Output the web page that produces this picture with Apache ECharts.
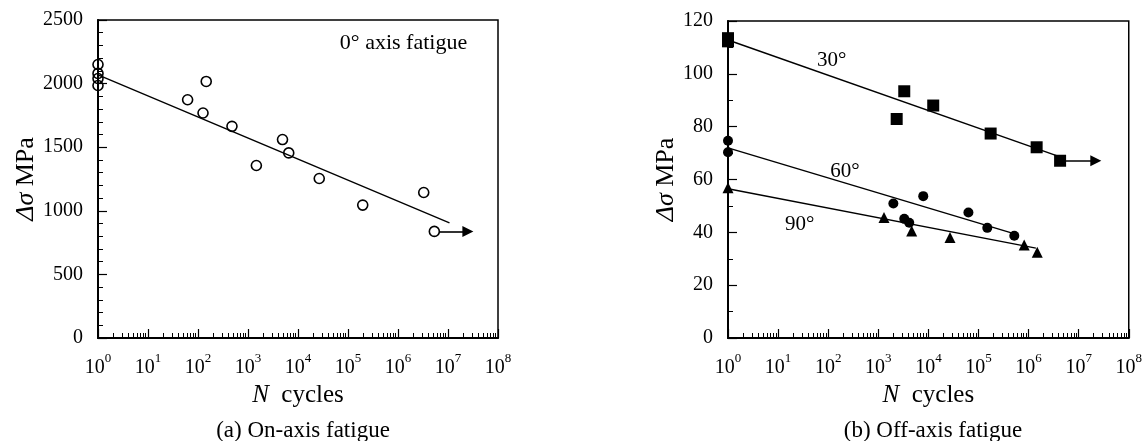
<!DOCTYPE html>
<html>
<head>
<meta charset="utf-8">
<title>Fatigue S-N curves</title>
<script src="https://cdn.jsdelivr.net/npm/echarts@6/dist/echarts.min.js"></script>
<style>
  body { margin: 0; background: #fff; }
  #chart { width: 1145px; height: 441px; }
</style>
</head>
<body>
<div id="chart"></div>
<script>
// (a) on-axis fatigue data
const onN = [1, 1, 1, 1, 62, 146, 126, 478, 1470, 4900, 6530, 26600, 197000, 3.27e6, 5.33e6];
const onS = [2150, 2080, 2040, 1985, 1873, 2017, 1769, 1664, 1356, 1560, 1455, 1254, 1045, 1144, 838];
const onFitN = [1, 1.07e7];
const onFitS = [2069, 905];
const onRunoutN = [6.6e6, 2.5e7];
const onRunoutS = 838;

// (b) off-axis fatigue data
const s30N = [1, 1, 2330, 3300, 12500, 175000, 1.45e6, 4.26e6];
const s30S = [113.5, 112.3, 82.9, 93.4, 88.0, 77.4, 72.2, 67.1];
const s60N = [1, 1, 2000, 3300, 4150, 7900, 63000, 150000, 519000];
const s60S = [74.7, 70.3, 50.9, 45.1, 43.6, 53.7, 47.5, 41.7, 38.7];
const s90N = [1, 1300, 4650, 27000, 818000, 1.49e6];
const s90S = [56.9, 45.6, 40.5, 38.0, 35.2, 32.5];
const fit30N = [1, 4.4e6], fit30S = [112.8, 68.5];
const fit60N = [1, 5.5e5], fit60S = [72.0, 39.3];
const fit90N = [1, 1.4e6], fit90S = [56.5, 34.0];
const offRunoutN = [4.26e6, 2.2e7];
const offRunoutS = 67.1;

const offNotes = ['30°', '60°', '90°'];
const offNoteN = [117, 215, 27];
const offNoteS = [104.9, 62.9, 43];
const onNote = '0° axis fatigue';
const onNoteN = 1.29e6, onNoteS = 2320;

// ticks
const decades = [1, 10, 100, 1e3, 1e4, 1e5, 1e6, 1e7, 1e8];
const minorN = [];
decades.slice(0, -1).forEach(d => { for (let k = 2; k <= 9; k++) minorN.push(k * d); });

const FONT = 'Liberation Serif';
const pairs = (xs, ys) => xs.map((x, i) => [x, Array.isArray(ys) ? ys[i] : ys]);

function mainX(gi) {
  return {
    type: 'log', logBase: 10, gridIndex: gi, min: 1, max: 1e8, position: 'bottom',
    axisLine: { onZero: false, lineStyle: { color: '#000', width: 2 } },
    axisTick: { inside: true, length: 9, customValues: decades, lineStyle: { color: '#000', width: 1.2 } },
    axisLabel: {
      customValues: decades, margin: 14, color: '#000', fontFamily: FONT, fontSize: 20,
      formatter: v => '{b|10}{s|' + Math.round(Math.log10(v)) + '}',
      rich: {
        b: { fontSize: 20, lineHeight: 26, verticalAlign: 'bottom', fontFamily: FONT, color: '#000' },
        s: { fontSize: 13, lineHeight: 10, verticalAlign: 'top', fontFamily: FONT, color: '#000' }
      }
    },
    splitLine: { show: false },
    name: '{i|N}  cycles', nameLocation: 'middle', nameGap: 45,
    nameTextStyle: { color: '#000', fontFamily: FONT, fontSize: 25,
      rich: { i: { fontStyle: 'italic', fontFamily: FONT, fontSize: 25, color: '#000' } } }
  };
}
function minorX(gi) {
  return {
    type: 'log', logBase: 10, gridIndex: gi, min: 1, max: 1e8, position: 'bottom',
    axisLine: { show: false, onZero: false },
    axisTick: { inside: true, length: 5, customValues: minorN, lineStyle: { color: '#000', width: 1 } },
    axisLabel: { show: false },
    splitLine: { show: false }
  };
}
function yAx(gi, max, interval, minorSplit, nameGap) {
  return {
    type: 'value', gridIndex: gi, min: 0, max: max, interval: interval,
    axisLine: { show: true, onZero: false, lineStyle: { color: '#000', width: 2 } },
    axisTick: { show: true, inside: true, length: 9, lineStyle: { color: '#000', width: 1.2 } },
    minorTick: { show: true, splitNumber: minorSplit, length: 5, lineStyle: { color: '#000', width: 1 } },
    splitLine: { show: false },
    axisLabel: { margin: 15, color: '#000', fontFamily: FONT, fontSize: 20, formatter: v => String(v) },
    name: '{i|Δσ} MPa', nameLocation: 'middle', nameRotate: 90, nameGap: nameGap,
    nameTextStyle: { color: '#000', fontFamily: FONT, fontSize: 26,
      rich: { i: { fontStyle: 'italic', fontFamily: FONT, fontSize: 26, color: '#000' } } }
  };
}
function fitLine(xi, yi, xs, ys) {
  return { type: 'line', xAxisIndex: xi, yAxisIndex: yi, data: pairs(xs, ys), symbol: 'none',
    lineStyle: { color: '#000', width: 1.4 }, z: 2, silent: true };
}
function runout(xs, y) {
  return { silent: true, symbol: ['none', 'triangle'], symbolSize: 11, label: { show: false },
    lineStyle: { color: '#000', width: 1.6, type: 'solid', opacity: 1 }, itemStyle: { color: '#000', opacity: 1 },
    data: [[{ coord: [xs[0], y] }, { coord: [xs[1], y] }]] };
}
function marks(xi, yi, xs, ys, symbol, size, style, extra) {
  return Object.assign({ type: 'scatter', xAxisIndex: xi, yAxisIndex: yi, data: pairs(xs, ys),
    symbol: symbol, symbolSize: size, itemStyle: Object.assign({ opacity: 1 }, style), z: 3 }, extra || {});
}
function notes(xi, yi, xs, ys, texts, size) {
  return { type: 'scatter', xAxisIndex: xi, yAxisIndex: yi, data: pairs(xs, ys), symbolSize: 1,
    itemStyle: { color: 'rgba(0,0,0,0)', opacity: 1 }, silent: true, z: 5,
    label: { show: true, position: 'inside', color: '#000', opacity: 1, fontFamily: FONT, fontSize: size,
      formatter: p => texts[p.dataIndex] } };
}

const chart = echarts.init(document.getElementById('chart'));
chart.setOption({
  animation: false,
  backgroundColor: '#fff',
  title: [
    { text: '(a) On-axis fatigue', left: 298, top: 414, textAlign: 'center',
      textStyle: { color: '#000', fontFamily: FONT, fontSize: 23, fontWeight: 'normal' } },
    { text: '(b) Off-axis fatigue', left: 928, top: 414, textAlign: 'center',
      textStyle: { color: '#000', fontFamily: FONT, fontSize: 23, fontWeight: 'normal' } }
  ],
  grid: [
    { left: 98, top: 20, width: 400, height: 318, show: true, borderColor: '#000', borderWidth: 1.5 },
    { left: 728, top: 21, width: 401, height: 317, show: true, borderColor: '#000', borderWidth: 1.5 }
  ],
  xAxis: [mainX(0), minorX(0), mainX(1), minorX(1)],
  yAxis: [yAx(0, 2500, 500, 5, 51), yAx(1, 120, 20, 2, 48)],
  series: [
    fitLine(0, 0, onFitN, onFitS),
    marks(0, 0, onN, onS, 'circle', 10,
      { color: 'rgba(255,255,255,0)', borderColor: '#000', borderWidth: 1.6 },
      { markLine: runout(onRunoutN, onRunoutS) }),
    notes(0, 0, [onNoteN], [onNoteS], [onNote], 22),

    fitLine(2, 1, fit30N, fit30S),
    fitLine(2, 1, fit60N, fit60S),
    fitLine(2, 1, fit90N, fit90S),
    marks(2, 1, s30N, s30S, 'rect', 12, { color: '#000' }, { markLine: runout(offRunoutN, offRunoutS) }),
    marks(2, 1, s60N, s60S, 'circle', 10, { color: '#000' }),
    marks(2, 1, s90N, s90S, 'triangle', 11, { color: '#000' }),
    notes(2, 1, offNoteN, offNoteS, offNotes, 21)
  ]
});
</script>
</body>
</html>
